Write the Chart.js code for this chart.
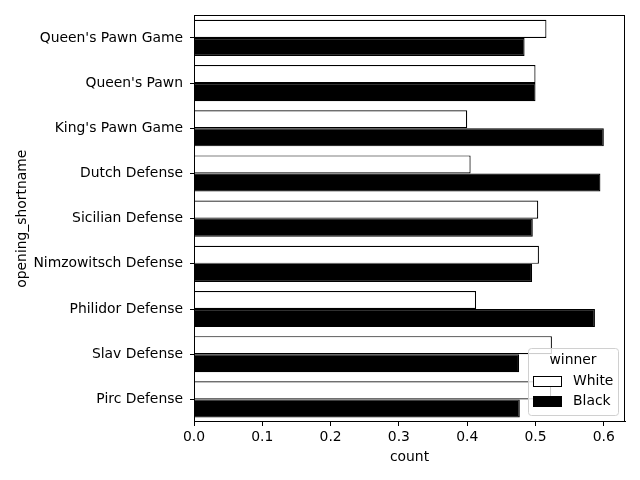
<!DOCTYPE html>
<html>
<head>
<meta charset="utf-8">
<script src="https://cdn.jsdelivr.net/npm/chart.js@4.4.0/dist/chart.umd.min.js"></script>
<style>
  html, body { margin: 0; padding: 0; background: #fff; }
  #wrap { width: 640px; height: 480px; }
</style>
</head>
<body>
<div id="wrap"><canvas id="myChart" width="640" height="480"></canvas></div>
<script>
var openings = ["Queen's Pawn Game", "Queen's Pawn", "King's Pawn Game", "Dutch Defense",
    "Sicilian Defense", "Nimzowitsch Defense", "Philidor Defense", "Slav Defense", "Pirc Defense"];
var whiteShare = [0.516, 0.500, 0.400, 0.405, 0.504, 0.505, 0.413, 0.524, 0.523];
var blackShare = [0.484, 0.500, 0.600, 0.595, 0.496, 0.495, 0.587, 0.476, 0.477];
var xTicks = [0.0, 0.1, 0.2, 0.3, 0.4, 0.5, 0.6];
var seriesNames = ["White", "Black"];

var FONT = "'DejaVu Sans', sans-serif";
Chart.defaults.font.family = FONT;
Chart.defaults.font.size = 13.9;
Chart.defaults.color = "#000";

// box round the plot + legend in the lower right corner
var framePlugin = {
    id: 'frame',
    afterDraw: function(chart){
        var ctx = chart.ctx, a = chart.chartArea;
        ctx.save();
        ctx.strokeStyle = "#000";
        ctx.lineWidth = 1;
        ctx.strokeRect(Math.round(a.left) + 0.5, Math.round(a.top) + 0.5,
            Math.round(a.right - a.left) - 1, Math.round(a.bottom - a.top) - 1);

        // legend
        var bx = a.right - 97, by = a.bottom - 74, bw = 90, bh = 67;
        ctx.fillStyle = "rgba(255,255,255,0.8)";
        ctx.strokeStyle = "#d0d0d0";
        ctx.beginPath();
        ctx.roundRect(bx + 0.5, by + 0.5, bw, bh, 3);
        ctx.fill();
        ctx.stroke();
        ctx.fillStyle = "#000";
        ctx.font = "13.9px " + FONT;
        ctx.textAlign = "center";
        ctx.textBaseline = "middle";
        ctx.fillText("winner", bx + bw / 2, by + 12);
        ctx.textAlign = "left";
        var rows = [{fill: "#fff", y: by + 33}, {fill: "#000", y: by + 53}];
        for (var i = 0; i < rows.length; i++) {
            ctx.fillStyle = rows[i].fill;
            ctx.strokeStyle = "#000";
            ctx.fillRect(bx + 5.5, rows[i].y - 5, 28, 10);
            ctx.strokeRect(bx + 5.5, rows[i].y - 5 + 0.5, 28, 10);
            ctx.fillStyle = "#000";
            ctx.fillText(seriesNames[i], bx + 45, rows[i].y);
        }
        ctx.restore();
    }
};

var ctx = document.getElementById('myChart').getContext('2d');
var chart = new Chart(ctx, {
    type: 'bar',
    data: {
        labels: openings,
        datasets: [{
            label: seriesNames[0],
            data: whiteShare,
            backgroundColor: "#fff",
            borderColor: "#000",
            borderWidth: 1.2,
            categoryPercentage: 0.8,
            barPercentage: 1.0
        }, {
            label: seriesNames[1],
            data: blackShare,
            backgroundColor: "#000",
            borderColor: "#000",
            borderWidth: 1.2,
            categoryPercentage: 0.8,
            barPercentage: 1.0
        }]
    },
    options: {
        indexAxis: 'y',
        responsive: false,
        animation: false,
        layout: { padding: { top: 15, right: 15, left: 0, bottom: 0 } },
        plugins: {
            legend: { display: false },
            tooltip: { enabled: false }
        },
        scales: {
            x: {
                min: 0,
                max: 0.631,
                afterBuildTicks: function(scale){
                    scale.ticks = xTicks.map(function(v){ return {value: v}; });
                },
                afterFit: function(scale){ scale.height = 58; },
                ticks: {
                    padding: 3,
                    callback: function(v){ return Number(v).toFixed(1); }
                },
                grid: { drawOnChartArea: false, tickLength: 4, color: "#000" },
                border: { display: true, color: "#000" },
                title: { display: true, text: "count", padding: { top: 2, bottom: 14 } }
            },
            y: {
                afterFit: function(scale){ scale.width = 194; },
                ticks: { padding: 7 },
                grid: { offset: false, drawOnChartArea: false, tickLength: 4, color: "#000" },
                border: { display: true, color: "#000" },
                title: { display: true, text: "opening_shortname", padding: { top: 14, bottom: 0 } }
            }
        }
    },
    plugins: [framePlugin]
});
</script>
</body>
</html>
